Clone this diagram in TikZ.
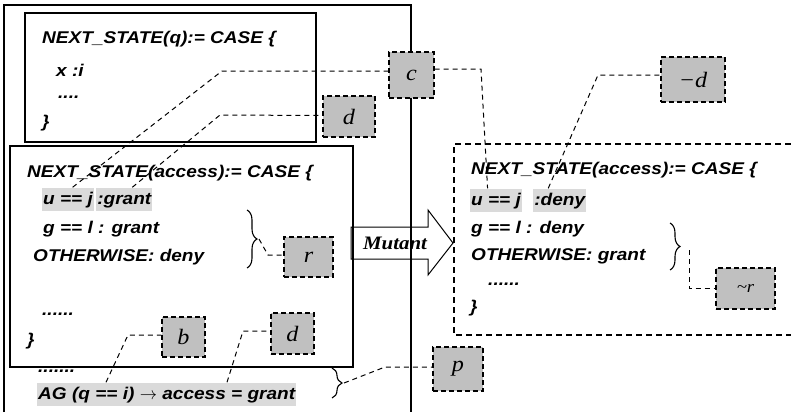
\documentclass[tikz,border=0pt]{standalone}
\usepackage{fontspec}
\newfontfamily\codefont[FakeStretch=1.12]{Liberation Sans}
\newfontfamily\labfont[FakeStretch=1.1]{Liberation Serif}
\usetikzlibrary{positioning, decorations.pathreplacing}

\definecolor{tagfill}{RGB}{192,192,192}
\definecolor{hlfill}{RGB}{218,218,218}

\tikzset{
  code/.style={anchor=base west, inner sep=0pt, font=\codefont\bfseries\itshape\fontsize{17}{20}\selectfont},
  hl/.style={code, fill=hlfill, inner xsep=1pt, inner ysep=2.5pt, text height=14pt, text depth=4pt},
  tag/.style={draw, dashed, dash pattern=on 5pt off 3pt, line width=1.4pt, fill=tagfill, inner sep=0pt, font=\labfont\itshape\fontsize{22}{24}\selectfont},
  lead/.style={dashed, dash pattern=on 5pt off 4pt, line width=1pt},
  brc/.style={decorate, decoration={brace, amplitude=10pt}, line width=1.1pt},
  frame/.style={line width=1.2pt}
}

\begin{document}
\begin{tikzpicture}[x=1pt, y=-1pt]
  \useasboundingbox (0,0) rectangle (791,412);
  \draw[frame] (4,412) |- (411,5) -- (411,412);
  \draw[frame] (25,13) rectangle (316,142);
  \draw[frame] (10,146) rectangle (353,367);
  \draw[frame, dashed, dash pattern=on 6pt off 4pt] (791,144) -| (454,335) -- (791,335);
  \draw[line width=1pt] (351,227) -- (428,227) -- (428,210) -- (453,243) -- (428,275) -- (428,259) -- (351,259) -- cycle;
  \node[font=\labfont\bfseries\itshape\fontsize{19}{22}\selectfont] (mut) at (395,243) {Mutant};

  \node[code] (q0) at (42,44) {NEXT\_STATE(q):= CASE \{};
  \node[code] (q1) at (56,76) {x :i};
  \node[code] (q2) at (58,98) {....};
  \node[code] (q3) at (42,127) {\}};

  \node[code] (a0) at (27,177) {NEXT\_STATE(access):= CASE \{};
  \node[hl] (u1) at (42,204) {u == j};
  \node[hl] (g1) at ([xshift=2pt]u1.base east) {:grant};
  \node[code] (a2) at (43,233) {g == l : grant};
  \node[code] (a3) at (33,261) {OTHERWISE: deny};
  \node[code] (a4) at (42,315) {......};
  \node[code] (a5) at (27,345) {\}};
  \node[code] (a6) at (38,372) {.......};
  \node[hl] (ag) at (37,399) {AG (q == i) $\rightarrow$ access = grant};

  \node[code] (m0) at (471,174) {NEXT\_STATE(access):= CASE \{};
  \node[hl] (u2) at (470,205) {u == j};
  \node[hl] (dn) at ([xshift=11pt]u2.base east) {:deny};
  \node[code] (m2) at (471,233) {g == l : deny};
  \node[code] (m3) at (471,260) {OTHERWISE: grant};
  \node[code] (m4) at (488,285) {......};
  \node[code] (m5) at (470,312) {\}};

  \node[tag, minimum width=45pt, minimum height=46pt] (c) at (411.5,75) {c};
  \node[tag, minimum width=52pt, minimum height=41pt] (d1) at (349,116.5) {d};
  \node[tag, minimum width=49pt, minimum height=40pt] (r) at (308.5,257) {r};
  \node[tag, minimum width=43pt, minimum height=40pt] (b) at (183.5,337) {b};
  \node[tag, minimum width=43pt, minimum height=41pt] (d2) at (292.5,333.5) {d};
  \node[tag, minimum width=50pt, minimum height=44pt] (p) at (458,369) {p};
  \node[tag, minimum width=64pt, minimum height=45pt] (nd) at (693,79.5) {−d};
  \node[tag, minimum width=59pt, minimum height=41pt, font=\labfont\itshape\fontsize{17}{20}\selectfont] (nr) at (745.5,288.5) {\textasciitilde r};

  \draw[brc] (247,210) -- (247,268);
  \draw[brc] (332,368) -- (332,398);
  \draw[brc] (670,223) -- (670,270);
  \coordinate (rtip) at (259,239);
  \coordinate (agtip) at (344,383);
  \coordinate (nrtip) at (689,250);

  \draw[lead] ([xshift=4.5pt]u1.north) -- (222,71) -- ([yshift=4pt]c.west);
  \draw[lead] ([xshift=8pt]g1.north) -- (220,115) -- ([yshift=1pt]d1.west);
  \draw[lead] ([yshift=6pt]c.east) -- (481,69) -- ([xshift=-8.5pt]u2.north);
  \draw[lead] ([xshift=-11.5pt]dn.north) -- (598,75) -- ([yshift=4.5pt]nd.west);
  \draw[lead] (rtip) -- (268,255) -- ([yshift=2pt]r.west);
  \draw[lead] (nrtip) |- (nr.west);
  \draw[lead] ([xshift=69pt]ag.north west) -- (128,335) -- ([yshift=2pt]b.west);
  \draw[lead] ([xshift=190pt]ag.north west) -- (243,331) -- ([yshift=2.5pt]d2.west);
  \draw[lead] (agtip) -- (385,367) -- ([yshift=2pt]p.west);
\end{tikzpicture}
\end{document}
